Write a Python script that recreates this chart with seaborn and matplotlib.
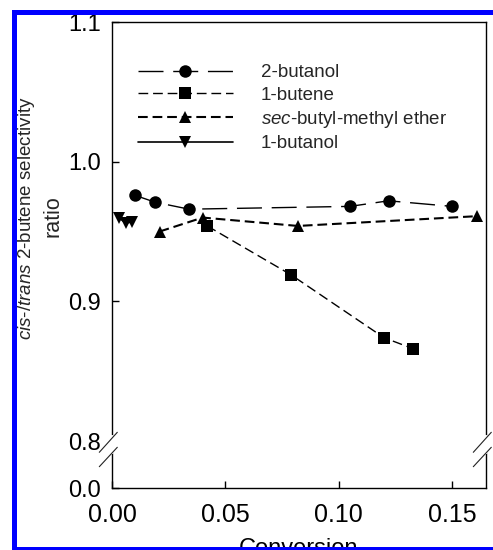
import numpy as np
import pandas as pd
import matplotlib
matplotlib.use("Agg")
import matplotlib.pyplot as plt
import seaborn as sns
from matplotlib.patches import Rectangle
from matplotlib.lines import Line2D

# cis/trans 2-butene selectivity ratio versus conversion
butanol2_x = [0.010, 0.019, 0.034, 0.105, 0.122, 0.150]
butanol2_y = [0.976, 0.971, 0.966, 0.968, 0.972, 0.968]
butene1_x = [0.042, 0.079, 0.120, 0.133]
butene1_y = [0.954, 0.919, 0.874, 0.866]
ether_x = [0.021, 0.040, 0.082, 0.161]
ether_y = [0.950, 0.960, 0.954, 0.961]
butanol1_x = [0.003, 0.006, 0.009]
butanol1_y = [0.960, 0.956, 0.957]

series_labels = ["2-butanol", "1-butene", r"$\it{sec}$-butyl-methyl ether", "1-butanol"]
x_ticks = [0.00, 0.05, 0.10, 0.15]
x_tick_labels = ["0.00", "0.05", "0.10", "0.15"]
y_ticks = [0.0, 0.8, 0.9, 1.0, 1.1]
y_tick_labels = ["0.0", "0.8", "0.9", "1.0", "1.1"]

sns.set_theme(style="white")
plt.rcParams.update({
    "font.family": ["Liberation Sans", "DejaVu Sans"],
    "mathtext.fontset": "custom",
    "mathtext.rm": "Liberation Sans",
    "mathtext.it": "Liberation Sans:italic",
    "lines.scale_dashes": False,
    "axes.edgecolor": "black",
    "axes.linewidth": 1.0,
})

W, H = 493, 550
fig = plt.figure(figsize=(W / 100, H / 100), dpi=100)
fig.patch.set_facecolor("white")

def fx(px):
    return px / W

def fy(py):
    return 1 - py / H

ax = fig.add_axes([fx(112), fy(488), fx(486) - fx(112), fy(22) - fy(488)])

# broken y scale: the 0.0–0.8 stretch is squeezed into a short band
BREAK = 0.8
SQUEEZE = 0.042

def fwd(y):
    y = np.asarray(y, dtype=float)
    return np.where(y >= BREAK, y, BREAK - (BREAK - y) * SQUEEZE)

def inv(z):
    z = np.asarray(z, dtype=float)
    return np.where(z >= BREAK, z, BREAK - (BREAK - z) / SQUEEZE)

ax.set_yscale("function", functions=(fwd, inv))

series = [
    (butanol2_x, butanol2_y, "o", 9.0, (0, (18, 7)), 1.0),
    (butene1_x, butene1_y, "s", 8.0, (0, (7, 3.5)), 1.0),
    (ether_x, ether_y, "^", 9.0, (0, (7, 3.5)), 1.5),
    (butanol1_x, butanol1_y, "v", 9.0, "-", 1.2),
]
for (xs, ys, mk, ms, ls, lw), lab in zip(series, series_labels):
    df = pd.DataFrame({"conversion": xs, "ratio": ys})
    sns.lineplot(data=df, x="conversion", y="ratio", ax=ax, sort=False,
                 color="black", marker=mk, markersize=ms, markeredgewidth=0,
                 linestyle=ls, linewidth=lw, label=lab, legend=False)

ax.set_xlim(0, 0.165)
ax.set_ylim(0.0, 1.1)
ax.set_xticks(x_ticks)
ax.set_xticklabels(x_tick_labels)
ax.set_yticks(y_ticks)
ax.set_yticklabels(y_tick_labels)
ax.minorticks_off()
ax.tick_params(axis="x", direction="in", length=5, width=1, labelsize=18, pad=11,
               colors="black", bottom=True, top=False)
ax.tick_params(axis="y", direction="in", length=5, width=1, labelsize=17, pad=8,
               colors="black", left=True, right=False)
# no tick mark at the break itself
ax.yaxis.get_major_ticks()[1].tick1line.set_visible(False)
ax.set_xlabel("Conversion", fontsize=17, labelpad=8, color="black")
ax.set_ylabel("")

handles = ax.get_lines()[:4]
ax.legend(handles, series_labels, loc="upper left",
          bbox_to_anchor=(fx(138), fy(64)), bbox_transform=fig.transFigure,
          frameon=False, fontsize=13.5, handlelength=5.05, handletextpad=1.5,
          labelspacing=0.28, borderpad=0, borderaxespad=0, numpoints=1)

# y-axis title, two lines
fig.text(fx(26.5), fy(218), r"$\it{cis}$-/$\it{trans}$ 2-butene selectivity",
         rotation=90, ha="center", va="center", fontsize=13.5)
fig.text(fx(53), fy(216), "ratio", rotation=90, ha="center", va="center", fontsize=15.5)

# axis break marks on both vertical spines
for sx in (112, 486):
    fig.add_artist(Line2D([fx(sx), fx(sx)], [fy(437), fy(452)], color="white",
                          lw=3, transform=fig.transFigure, zorder=5))
    for (x0, y0, x1, y1) in ((sx - 12.7, 452.3, sx + 5.3, 432.3),
                             (sx - 12.7, 466.7, sx + 5.3, 447.3)):
        fig.add_artist(Line2D([fx(x0), fx(x1)], [fy(y0), fy(y1)], color="#222222",
                              lw=0.8, transform=fig.transFigure, zorder=6))

# blue selection frame
frame = dict(transform=fig.transFigure, zorder=20, linewidth=0)
fig.add_artist(Rectangle((0, 0), fx(12), 1, facecolor="white", **frame))
fig.add_artist(Rectangle((0, fy(10)), 1, 1 - fy(10), facecolor="white", **frame))
fig.add_artist(Rectangle((fx(12), 0), fx(5), fy(10), facecolor="#0000ff", **frame))
fig.add_artist(Rectangle((fx(12), fy(15)), 1, fy(10) - fy(15), facecolor="#0000ff", **frame))
fig.add_artist(Rectangle((fx(12), 0), 1, fy(547), facecolor="#0000ff", **frame))

fig.savefig("out.png", dpi=100)
